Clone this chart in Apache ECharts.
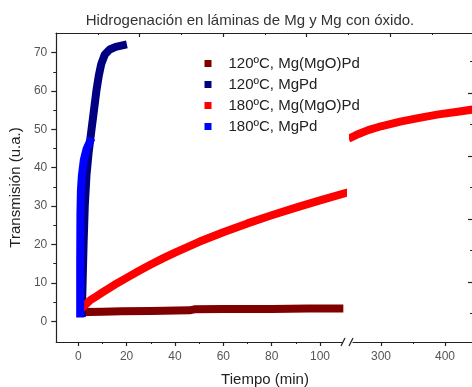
<!DOCTYPE html>
<html><head><meta charset="utf-8">
<script src="https://cdn.jsdelivr.net/npm/echarts/dist/echarts.min.js"></script>
<style>html,body{margin:0;padding:0;background:#fff}#c{width:472px;height:387px}</style>
</head><body><div id="c"></div>
<script>
// ---- data ----
const seriesNames = ['120ºC, Mg(MgO)Pd', '120ºC, MgPd', '180ºC, Mg(MgO)Pd', '180ºC, MgPd'];
const mgoPd120 = [[1.5,2.4],[10,2.5],[18,2.6],[30,2.7],[46,2.85],[48,3.1],[60,3.2],[80,3.2],[95,3.3],[108,3.3]];
const mgPd120 = [[1.5,2.2],[1.8,10],[2.2,20],[2.7,30],[3.4,38],[4.3,44],[5.5,50],[6.5,55],[7.5,60],[8.5,64],[9.5,67],[11,69.5],[13,70.8],[15.5,71.5],[18.5,71.9]];
const mgoPd180Left = [[2.5,4],[5,5.5],[7.5,6.5],[10,7.5],[15,9.5],[20,11.3],[25,13.1],[30,14.8],[35,16.4],[40,17.9],[50,20.7],[60,23.2],[70,25.5],[80,27.6],[90,29.6],[100,31.5],[110,33.3]];
const mgoPd180Right = [[255,48],[265,48.8],[280,49.8],[300,50.8],[330,52.0],[360,53.0],[390,53.9],[420,54.6],[445,55.2]];
const mgPd180 = [[0.8,2],[0.8,15],[0.9,28],[1.1,34],[1.5,38],[2.3,42],[3.5,45],[4.8,46.8]];
const xTicksLeft = [0,20,40,60,80,100];
const xMinorLeft = [10,30,50,70,90];
const xTicksRight = [300,400];
const xMinorRight = [350];
const yTicks = [0,10,20,30,40,50,60,70];
const yMinor = [5,15,25,35,45,55,65];
const colors = ['#800000','#000080','#ff0000','#0000ff'];

const FONT = '"Liberation Sans", Arial, sans-serif';
const AX = '#222';
const LBL = '#555';
const yMin = -5.4, yMax = 75.1;

function majorX(grid, min, max, ticks) {
  return {type:'value', gridIndex:grid, min:min, max:max, position:'bottom',
    axisLine:{show:true, onZero:false, lineStyle:{color:AX, width:1.2}},
    axisTick:{show:true, inside:false, length:4, customValues:ticks, lineStyle:{color:AX, width:1.2}},
    axisLabel:{show:true, customValues:ticks, color:LBL, fontSize:12, fontFamily:FONT, margin:9},
    splitLine:{show:false}};
}
function minorX(grid, min, max, ticks) {
  return {type:'value', gridIndex:grid, min:min, max:max, position:'bottom',
    axisLine:{show:false, onZero:false},
    axisTick:{show:true, inside:false, length:2, customValues:ticks, lineStyle:{color:AX, width:1}},
    axisLabel:{show:false}, splitLine:{show:false}};
}

const chart = echarts.init(document.getElementById('c'), null, {renderer:'canvas'});
const line = (name, data, color, xi, yi) => ({
  name:name, type:'line', data:data, xAxisIndex:xi, yAxisIndex:yi,
  symbol:'none', showSymbol:false, smooth:false, animation:false, clip:true,
  lineStyle:{color:color, width:8, cap:'square', join:'round'},
  itemStyle:{color:color}
});

chart.setOption({
  animation:false,
  color: colors,
  grid:[
    {left:56, top:33, width:286, height:309},
    {left:353, top:33, width:119, height:309},
    {left:56, top:33, width:416, height:309}
  ],
  xAxis:[
    majorX(0, -9.1, 109.1, xTicksLeft),
    minorX(0, -9.1, 109.1, xMinorLeft),
    majorX(1, 256.3, 442.2, xTicksRight),
    minorX(1, 256.3, 442.2, xMinorRight),
    {type:'value', gridIndex:2, min:0, max:416, position:'top',
      axisLine:{show:true, onZero:false, lineStyle:{color:AX, width:1.2}},
      axisTick:{show:true, inside:true, length:4, customValues:[83.5,167,250.5,334], lineStyle:{color:AX, width:1.2}},
      axisLabel:{show:false}, splitLine:{show:false}},
    {type:'value', gridIndex:2, min:0, max:416, position:'top',
      axisLine:{show:false, onZero:false},
      axisTick:{show:true, inside:true, length:2, customValues:[41.75,125.25,208.75,292.25,375.75], lineStyle:{color:AX, width:1}},
      axisLabel:{show:false}, splitLine:{show:false}}
  ],
  yAxis:[
    {type:'value', gridIndex:0, min:yMin, max:yMax, position:'left',
      name:'Transmisión (u.a.)', nameLocation:'middle', nameGap:27,
      nameTextStyle:{fontSize:15, color:'#222', fontFamily:FONT},
      axisLine:{show:true, onZero:false, lineStyle:{color:AX, width:1.2}},
      axisTick:{show:true, inside:false, length:5, customValues:yTicks, lineStyle:{color:AX, width:1.2}},
      axisLabel:{show:true, customValues:yTicks, color:LBL, fontSize:12, fontFamily:FONT, margin:9},
      splitLine:{show:false}},
    {type:'value', gridIndex:0, min:yMin, max:yMax, position:'left',
      axisLine:{show:false, onZero:false},
      axisTick:{show:true, inside:false, length:3, customValues:yMinor, lineStyle:{color:AX, width:1}},
      axisLabel:{show:false}, splitLine:{show:false}},
    {type:'value', gridIndex:1, min:yMin, max:yMax, show:false, splitLine:{show:false}},
    {type:'value', gridIndex:2, min:0, max:309, position:'right',
      axisLine:{show:false, onZero:false},
      axisTick:{show:true, inside:true, length:4, customValues:[60,123,186,249], lineStyle:{color:AX, width:1.2}},
      axisLabel:{show:false}, splitLine:{show:false}},
    {type:'value', gridIndex:2, min:0, max:309, position:'right',
      axisLine:{show:false, onZero:false},
      axisTick:{show:true, inside:true, length:2, customValues:[29,92,155,218,281], lineStyle:{color:AX, width:1}},
      axisLabel:{show:false}, splitLine:{show:false}}
  ],
  legend:{
    orient:'vertical', left:199.5, top:51, itemWidth:7, itemHeight:7, itemGap:6, icon:'rect',
    data:seriesNames,
    textStyle:{fontSize:15, color:'#222', fontFamily:FONT, lineHeight:14, padding:[0,0,0,12]}
  },
  graphic:[
    {type:'text', x:250, y:21, style:{text:'Hidrogenación en láminas de Mg y Mg con óxido.', fill:'#333', fontSize:15, fontFamily:FONT, align:'center', verticalAlign:'middle'}},
    {type:'text', x:265, y:380, style:{text:'Tiempo (min)', fill:'#222', fontSize:15, fontFamily:FONT, align:'center', verticalAlign:'middle'}},
    {type:'line', shape:{x1:341, y1:346, x2:345, y2:338}, style:{stroke:AX, lineWidth:1.2}},
    {type:'line', shape:{x1:349, y1:346, x2:353, y2:338}, style:{stroke:AX, lineWidth:1.2}}
  ],
  series:[
    line(seriesNames[0], mgoPd120, colors[0], 0, 0),
    line(seriesNames[1], mgPd120, colors[1], 0, 0),
    line(seriesNames[2], mgoPd180Left, colors[2], 0, 0),
    line(seriesNames[2], mgoPd180Right, colors[2], 2, 2),
    line(seriesNames[3], mgPd180, colors[3], 0, 0)
  ]
});
</script></body></html>
